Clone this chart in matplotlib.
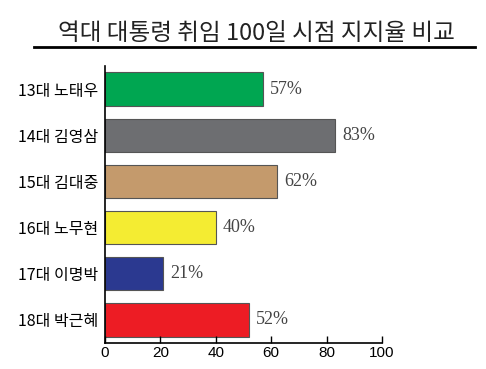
import matplotlib.pyplot as plt
from matplotlib.lines import Line2D

plt.rcParams['font.family'] = ['Noto Sans CJK KR', 'DejaVu Sans']

# 데이터
names = ['13대 노태우', '14대 김영삼', '15대 김대중', '16대 노무현', '17대 이명박', '18대 박근혜']
rates = [57, 83, 62, 40, 21, 52]
colors = ['#00A651', '#6D6E71', '#C49A6C', '#F4EC32', '#2B3990', '#ED1C24']
xticks = [0, 20, 40, 60, 80, 100]

fig = plt.figure(figsize=(4.86, 3.69), dpi=100)
ax = fig.add_axes([105 / 486, 26 / 369, 277 / 486, 277 / 369])

y = list(range(len(names)))
ax.barh(y, rates, height=0.72, color=colors, edgecolor='#555555', linewidth=0.8)

for yi, v in zip(y, rates):
    ax.text(v + 2.6, yi, f'{v}%', va='center', ha='left', fontsize=13,
            family=['Liberation Serif'], color='#444444')

ax.set_ylim(5.5, -0.5)
ax.set_xlim(0, 100)
ax.set_yticks(y)
ax.set_yticklabels(names, fontsize=11.5)
ax.set_xticks(xticks)
ax.set_xticklabels([str(t) for t in xticks], family=['Liberation Sans'], fontsize=11)
ax.tick_params(axis='y', length=0, pad=5)
ax.tick_params(axis='x', direction='in', length=5, width=1, pad=2)
for s in ['top', 'right']:
    ax.spines[s].set_visible(False)
ax.spines['left'].set_linewidth(1.2)
ax.spines['bottom'].set_linewidth(1.2)

fig.text(256 / 486, 1 - 33 / 369, '역대 대통령 취임 100일 시점 지지율 비교',
         ha='center', va='center', fontsize=17, fontweight='light', color='#222222')
fig.add_artist(Line2D([34 / 486, 475 / 486], [1 - 47 / 369, 1 - 47 / 369],
                      color='black', linewidth=2, transform=fig.transFigure))

fig.savefig('out.png', dpi=100)
